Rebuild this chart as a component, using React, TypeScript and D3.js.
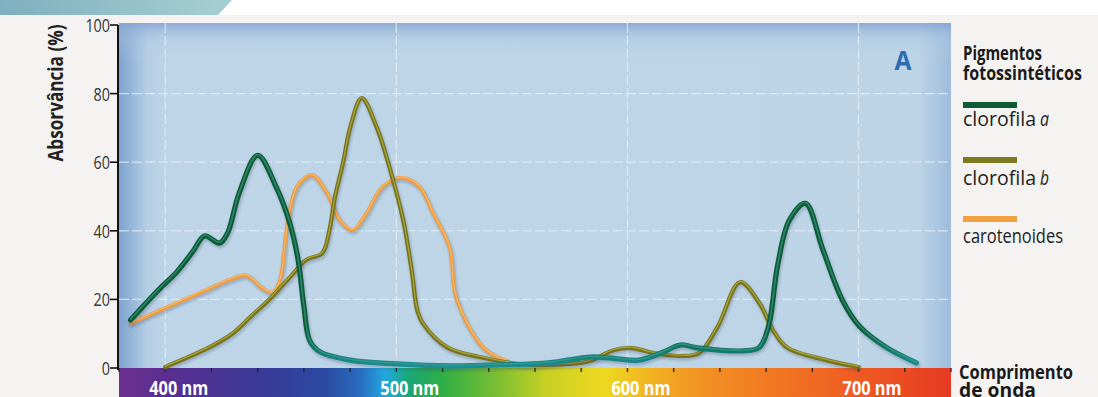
import React from "react";
import * as d3 from "d3";

// ---------- DATA ----------
const chlA_nm = [385, 397, 405, 412, 417, 423.5, 427, 432, 440, 448, 454, 457.5, 460, 462.5, 467, 480, 500, 523, 545, 566, 584, 593, 605, 615, 623, 631, 650, 657, 661, 665, 670, 677, 684.6, 693, 700.6, 712, 725];
const chlA_val = [14, 22.7, 28, 34, 38.5, 36.4, 39.4, 51, 62, 52.8, 42, 31.5, 18, 8, 4.7, 2.3, 1.2, 0.6, 0.9, 1.5, 3.2, 2.9, 2.3, 4.5, 6.7, 5.8, 5, 6, 12, 30, 43, 48, 34.4, 19.8, 12, 6, 1.5];

const chlB_nm = [400, 419, 429, 437, 445, 454, 461, 468, 471, 473.5, 477, 480, 485, 491.6, 497, 503, 506.8, 509, 511.5, 522, 536, 555, 568, 582.5, 594, 602, 611, 622.7, 631, 639, 648.7, 657, 663, 669, 686, 700];
const chlB_val = [0.3, 6, 10, 15, 20, 26.5, 31.5, 33.5, 40, 50, 60, 70, 78.7, 70, 58.6, 43, 27.7, 17, 13, 6, 3.2, 1, 1, 1.8, 5.2, 5.8, 4.4, 3.5, 4.4, 12, 25, 19, 11, 6, 2.3, 0.3];

const car_nm = [385, 400, 415, 429, 435, 442, 446.6, 449.7, 452.7, 457, 463.5, 470, 475.6, 481, 487, 494, 502.5, 510, 516, 523, 525.4, 530.6, 537.5, 543.6, 548];
const car_val = [13, 17.5, 21.9, 26, 27, 23.3, 22, 25.7, 41, 52.8, 56.3, 51, 43, 40.2, 45, 52.8, 55.4, 52.8, 45, 35.3, 21.9, 13, 6, 3.2, 2];

const yTicks = [0, 20, 40, 60, 80, 100];
const xTicks = [380, 400, 420, 440, 460, 480, 500, 520, 540, 560, 580, 600, 620, 640, 660, 680, 700, 720, 740];
const xLabels = [400, 500, 600, 700];
const gridY = [20, 40, 60, 80];

const spectrumStops: [number, string][] = [
  [380, "#6b2f8f"], [400, "#5b2f91"], [440, "#3b3896"], [470, "#2a4aa2"], [485, "#2a6fc0"],
  [495, "#22a7df"], [505, "#1aa77a"], [520, "#2fae45"], [545, "#7fbf31"], [565, "#c8d022"],
  [590, "#efd821"], [610, "#f1b322"], [630, "#f29322"], [660, "#f17a22"], [700, "#ef5b22"], [740, "#e63a22"],
];

const legendItems = [
  { name: "clorofila", it: "a", color: "#0e5a36", w: 73 },
  { name: "clorofila", it: "b", color: "#7c7a1e", w: 73 },
  { name: "carotenoides", it: "", color: "#f0a040", w: 100 },
];

const FONT = "'Open Sans', 'Noto Sans', sans-serif";

export default function App() {
  const W = 1098, H = 397;
  const left = 119, right = 951, top = 23, bottom = 368;
  const x = d3.scaleLinear().domain([380, 740]).range([left, right]);
  const y = d3.scaleLinear().domain([0, 100]).range([bottom, 25]);

  const line = d3.line<[number, number]>()
    .x((d) => x(d[0]))
    .y((d) => y(d[1]))
    .curve(d3.curveCatmullRom.alpha(0.5));

  const zip = (a: number[], b: number[]) => a.map((v, i) => [v, b[i]] as [number, number]);
  const pA = line(zip(chlA_nm, chlA_val)) || "";
  const pB = line(zip(chlB_nm, chlB_val)) || "";
  const pC = line(zip(car_nm, car_val)) || "";

  return (
    <svg width={W} height={H} style={{ position: "fixed", left: 0, top: 0, display: "block" }} fontFamily={FONT}>
      <defs>
        <linearGradient id="banner" x1="0" x2="1" y1="0" y2="0">
          <stop offset="0" stopColor="#7fb0bf" />
          <stop offset="1" stopColor="#a6cfd3" />
        </linearGradient>
        <linearGradient id="panelH" x1="0" x2="1" y1="0" y2="0">
          <stop offset="0" stopColor="#7ea3cf" />
          <stop offset="0.035" stopColor="#b6cfe4" />
          <stop offset="0.06" stopColor="#bdd5e7" />
          <stop offset="0.96" stopColor="#bcd4e6" />
          <stop offset="1" stopColor="#9fbcdc" />
        </linearGradient>
        <linearGradient id="panelV" x1="0" x2="0" y1="0" y2="1">
          <stop offset="0" stopColor="#7fa2d0" stopOpacity="0.8" />
          <stop offset="0.05" stopColor="#a9c3e0" stopOpacity="0.3" />
          <stop offset="0.12" stopColor="#bdd5e7" stopOpacity="0" />
          <stop offset="1" stopColor="#bdd5e7" stopOpacity="0" />
        </linearGradient>
        <linearGradient id="spectrum" gradientUnits="userSpaceOnUse" x1={x(380)} x2={x(740)} y1="0" y2="0">
          {spectrumStops.map(([nm, c]) => (
            <stop key={nm} offset={(nm - 380) / 360} stopColor={c} />
          ))}
        </linearGradient>
        <linearGradient id="chlAgrad" gradientUnits="userSpaceOnUse" x1="0" x2="0" y1={y(12)} y2={y(0)}>
          <stop offset="0" stopColor="#0c5b38" />
          <stop offset="0.6" stopColor="#137a6a" />
          <stop offset="1" stopColor="#1a8e9c" />
        </linearGradient>
        <filter id="shadow" x="-5%" y="-5%" width="110%" height="110%">
          <feGaussianBlur stdDeviation="1.2" />
        </filter>
      </defs>

      {/* background */}
      <rect x={0} y={0} width={W} height={H} fill="#f4f3f1" />
      <rect x={0} y={0} width={W} height={15} fill="#ffffff" />
      <polygon points="0,0 232,0 218,15 0,15" fill="url(#banner)" />

      {/* plot panel */}
      <rect x={left} y={top} width={right - left} height={bottom - top} fill="url(#panelH)" />
      <rect x={left} y={top} width={right - left} height={bottom - top} fill="url(#panelV)" />

      {/* grid */}
      {gridY.map((v) => (
        <line key={"gy" + v} x1={left} x2={right} y1={y(v)} y2={y(v)} stroke="#e8f0f7" strokeWidth={1.2} strokeDasharray="10,3" opacity={0.75} />
      ))}
      {xLabels.map((v) => (
        <line key={"gx" + v} x1={x(v)} x2={x(v)} y1={top} y2={bottom} stroke="#e8f0f7" strokeWidth={1.2} strokeDasharray="10,3" opacity={0.75} />
      ))}

      {/* spectrum bar */}
      <rect x={left} y={bottom} width={right - left} height={H - bottom} fill="url(#spectrum)" />
      {xTicks.map((v) => (
        <line key={"xt" + v} x1={x(v)} x2={x(v)} y1={bottom} y2={bottom + 4} stroke="#222" strokeWidth={1.3} />
      ))}
      {xLabels.map((v) => (
        <text key={"xl" + v} x={x(v) - 16} y={395} fill="#ffffff" fontSize={20} fontWeight="bold"
          textLength={59} lengthAdjust="spacingAndGlyphs">
          {v} nm
        </text>
      ))}

      {/* curves: shadow, body, highlight */}
      {[
        { d: pC, body: "#ee9c3e", hi: "#f9cf95", w: 3.8 },
        { d: pB, body: "#767318", hi: "#c9c15a", w: 4.2 },
        { d: pA, body: "url(#chlAgrad)", hi: "#3fa38a", w: 5.2 },
      ].map((s, i) => (
        <g key={"c" + i} fill="none" strokeLinecap="round" strokeLinejoin="round">
          <path d={s.d} stroke="#2a3c55" strokeOpacity={0.25} strokeWidth={s.w + 1} transform="translate(1,2)" filter="url(#shadow)" />
          <path d={s.d} stroke={s.body} strokeWidth={s.w} />
          <path d={s.d} stroke={s.hi} strokeWidth={s.w * 0.3} strokeOpacity={0.6} transform="translate(0,-0.8)" />
        </g>
      ))}

      {/* y axis */}
      <line x1={left - 1} x2={left - 1} y1={top + 2} y2={bottom + 2} stroke="#111" strokeWidth={2} />
      {yTicks.map((v) => (
        <g key={"yt" + v}>
          <line x1={left - 9} x2={left - 1} y1={y(v)} y2={y(v)} stroke="#111" strokeWidth={1.6} />
          <text x={left - 9} y={y(v) + 7} textAnchor="end" fontSize={19} fill="#333"
            textLength={String(v).length * 8.2} lengthAdjust="spacingAndGlyphs">
            {v}
          </text>
        </g>
      ))}
      <text transform="translate(63,93) rotate(-90)" textAnchor="middle" fontSize={21} fontWeight="bold" fill="#222"
        textLength={137} lengthAdjust="spacingAndGlyphs">
        Absorvância (%)
      </text>

      {/* panel label */}
      <text x={903} y={70} textAnchor="middle" fontSize={26} fontWeight="bold" fill="#2b6cb2"
        textLength={17} lengthAdjust="spacingAndGlyphs">A</text>

      {/* legend */}
      <text x={963} y={60} fontSize={19} fontWeight="bold" fill="#1a1a1a" textLength={79} lengthAdjust="spacingAndGlyphs">Pigmentos</text>
      <text x={963} y={80} fontSize={19} fontWeight="bold" fill="#1a1a1a" textLength={119} lengthAdjust="spacingAndGlyphs">fotossintéticos</text>
      {legendItems.map((it, i) => {
        const ly = [105, 160, 219][i];
        const ty = [126, 185, 243][i];
        return (
          <g key={"lg" + i}>
            <rect x={963} y={ly - 3} width={54} height={6} fill={it.color} />
            <text x={963} y={ty} fontSize={20} fill="#222" textLength={it.w} lengthAdjust="spacingAndGlyphs">
              {it.name}
            </text>
            {it.it ? (
              <text x={963 + it.w + 4} y={ty} fontSize={20} fontStyle="italic" fill="#222" textLength={9} lengthAdjust="spacingAndGlyphs">
                {it.it}
              </text>
            ) : null}
          </g>
        );
      })}

      {/* x axis title */}
      <text x={959} y={379} fontSize={19} fontWeight="bold" fill="#1a1a1a" textLength={114} lengthAdjust="spacingAndGlyphs">Comprimento</text>
      <text x={959} y={397} fontSize={19} fontWeight="bold" fill="#1a1a1a" textLength={77} lengthAdjust="spacingAndGlyphs">de onda</text>
    </svg>
  );
}
